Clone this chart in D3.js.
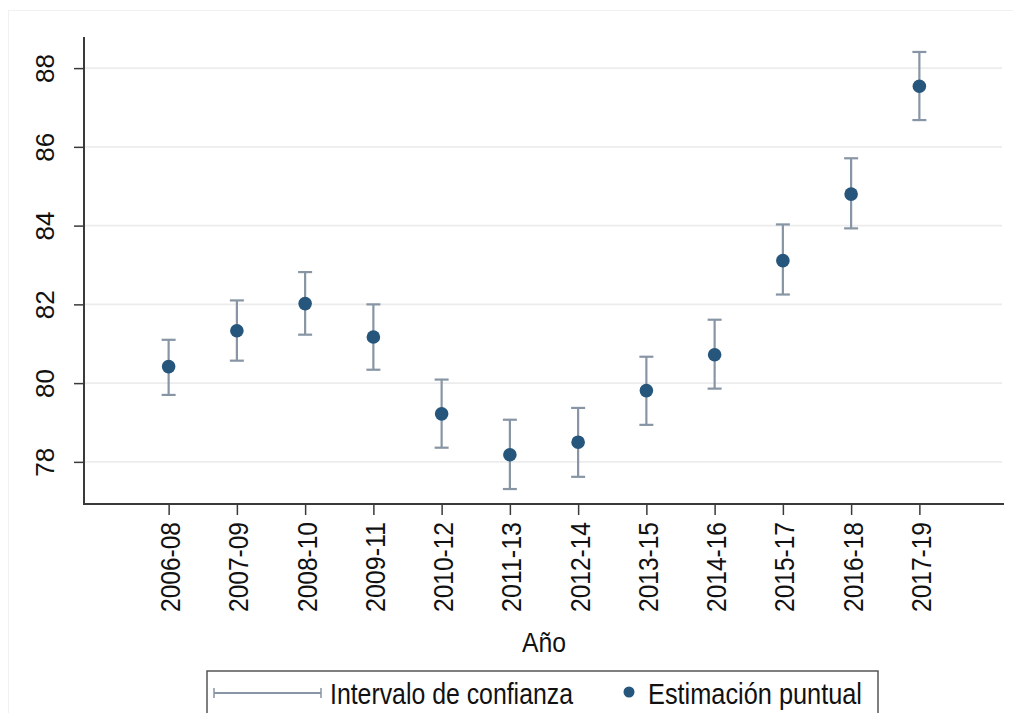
<!DOCTYPE html>
<html>
<head>
<meta charset="utf-8">
<script src="https://cdn.jsdelivr.net/npm/d3@7/dist/d3.min.js"></script>
<style>
  html, body { margin: 0; padding: 0; background: #ffffff; }
  svg { display: block; }
  text { font-family: "Liberation Sans", Arial, Helvetica, sans-serif; fill: #111; }
</style>
</head>
<body>
<svg id="chart" width="1013" height="713"></svg>
<script>
// Three-year rolling periods
const categories = ["2006-08", "2007-09", "2008-10", "2009-11", "2010-12", "2011-13",
                    "2012-14", "2013-15", "2014-16", "2015-17", "2016-18", "2017-19"];
// Point estimates and confidence interval bounds
const estimates = [80.42, 81.33, 82.02, 81.17, 79.22, 78.18, 78.50, 79.81, 80.72, 83.11, 84.80, 87.54];
const upperCI   = [81.10, 82.10, 82.82, 82.00, 80.09, 79.07, 79.37, 80.67, 81.61, 84.03, 85.71, 88.41];
const lowerCI   = [79.70, 80.57, 81.23, 80.34, 78.36, 77.31, 77.62, 78.94, 79.86, 82.25, 83.93, 86.68];
const yTicks = [78, 80, 82, 84, 86, 88];
const xTitle = "Año";
const legendLabels = ["Intervalo de confianza", "Estimación puntual"];

const rows = categories.map((c, i) => ({ cat: c, est: estimates[i], lo: lowerCI[i], hi: upperCI[i] }));

const svg = d3.select("#chart");
const plot = { left: 84, right: 1004, top: 37, bottom: 504 };

const pointColor = "#26567b";
const ciColor = "#8795a4";
const axisColor = "#3a3a3a";

// Faint outer graph-region frame
svg.append("rect")
  .attr("x", 8.5).attr("y", 10.5).attr("width", 1010).attr("height", 710)
  .attr("fill", "none").attr("stroke", "#f1f1f1").attr("stroke-width", 1);

const x = d3.scalePoint().domain(categories).range([plot.left, plot.right]).padding(1.24);
const y = d3.scaleLinear().domain([76.93, 88.79]).range([plot.bottom, plot.top]);

// Horizontal grid lines
svg.append("g").selectAll("line").data(yTicks).join("line")
  .attr("x1", plot.left + 1).attr("x2", plot.right - 2)
  .attr("y1", d => y(d)).attr("y2", d => y(d))
  .attr("stroke", "#ececec").attr("stroke-width", 1.6);

// Y axis
const yAxis = svg.append("g").attr("transform", `translate(${plot.left},0)`)
  .call(d3.axisLeft(y).tickValues(yTicks).tickSize(10).tickFormat(d3.format("d")));
yAxis.select(".domain").remove();
yAxis.selectAll(".tick line").attr("stroke", axisColor).attr("stroke-width", 1.5);
yAxis.selectAll(".tick text")
  .attr("x", null).attr("dy", null)
  .attr("transform", "translate(-30,0) rotate(-90)")
  .attr("text-anchor", "middle")
  .style("font-size", "26px").style("fill", "#111");
svg.append("line")
  .attr("x1", plot.left).attr("x2", plot.left)
  .attr("y1", plot.top).attr("y2", plot.bottom + 1)
  .attr("stroke", axisColor).attr("stroke-width", 2);

// X axis
const xAxis = svg.append("g").attr("transform", `translate(0,${plot.bottom})`)
  .call(d3.axisBottom(x).tickSize(11));
xAxis.select(".domain").remove();
xAxis.selectAll(".tick line").attr("stroke", axisColor).attr("stroke-width", 1.5);
xAxis.selectAll(".tick text")
  .attr("y", null).attr("dy", null)
  .attr("transform", "translate(11,18) rotate(-90)")
  .attr("text-anchor", "end")
  .attr("textLength", 90).attr("lengthAdjust", "spacingAndGlyphs")
  .style("font-size", "28.5px").style("fill", "#111");
svg.append("line")
  .attr("x1", plot.left - 1).attr("x2", plot.right)
  .attr("y1", plot.bottom).attr("y2", plot.bottom)
  .attr("stroke", axisColor).attr("stroke-width", 2);

// X axis title
svg.append("text")
  .attr("x", (x(categories[0]) + x(categories[categories.length - 1])) / 2)
  .attr("y", 652)
  .attr("text-anchor", "middle")
  .attr("textLength", 44).attr("lengthAdjust", "spacingAndGlyphs")
  .style("font-size", "28px")
  .text(xTitle);

// Confidence intervals
const capHalf = 7;
const ci = svg.append("g").attr("stroke", ciColor).attr("stroke-width", 2.2);
ci.selectAll("line.ci").data(rows).join("line").attr("class", "ci")
  .attr("x1", d => x(d.cat)).attr("x2", d => x(d.cat))
  .attr("y1", d => y(d.hi)).attr("y2", d => y(d.lo));
ci.selectAll("line.capHi").data(rows).join("line").attr("class", "capHi")
  .attr("x1", d => x(d.cat) - capHalf).attr("x2", d => x(d.cat) + capHalf)
  .attr("y1", d => y(d.hi)).attr("y2", d => y(d.hi));
ci.selectAll("line.capLo").data(rows).join("line").attr("class", "capLo")
  .attr("x1", d => x(d.cat) - capHalf).attr("x2", d => x(d.cat) + capHalf)
  .attr("y1", d => y(d.lo)).attr("y2", d => y(d.lo));

// Point estimates
svg.append("g").selectAll("circle").data(rows).join("circle")
  .attr("cx", d => x(d.cat)).attr("cy", d => y(d.est))
  .attr("r", 6.8).attr("fill", pointColor);

// Legend
const lg = svg.append("g");
lg.append("rect")
  .attr("x", 207).attr("y", 671).attr("width", 671).attr("height", 60)
  .attr("fill", "#fff").attr("stroke", "#555").attr("stroke-width", 1.5);
lg.append("line").attr("x1", 214).attr("x2", 321).attr("y1", 693).attr("y2", 693)
  .attr("stroke", ciColor).attr("stroke-width", 2);
[214, 321].forEach(px => {
  lg.append("line").attr("x1", px).attr("x2", px).attr("y1", 688).attr("y2", 698)
    .attr("stroke", ciColor).attr("stroke-width", 1.5);
});
lg.append("text").attr("x", 330).attr("y", 704)
  .attr("textLength", 243).attr("lengthAdjust", "spacingAndGlyphs")
  .style("font-size", "29px").text(legendLabels[0]);
lg.append("circle").attr("cx", 629).attr("cy", 692).attr("r", 5.5).attr("fill", pointColor);
lg.append("text").attr("x", 648).attr("y", 704)
  .attr("textLength", 214).attr("lengthAdjust", "spacingAndGlyphs")
  .style("font-size", "29px").text(legendLabels[1]);
</script>
</body>
</html>
